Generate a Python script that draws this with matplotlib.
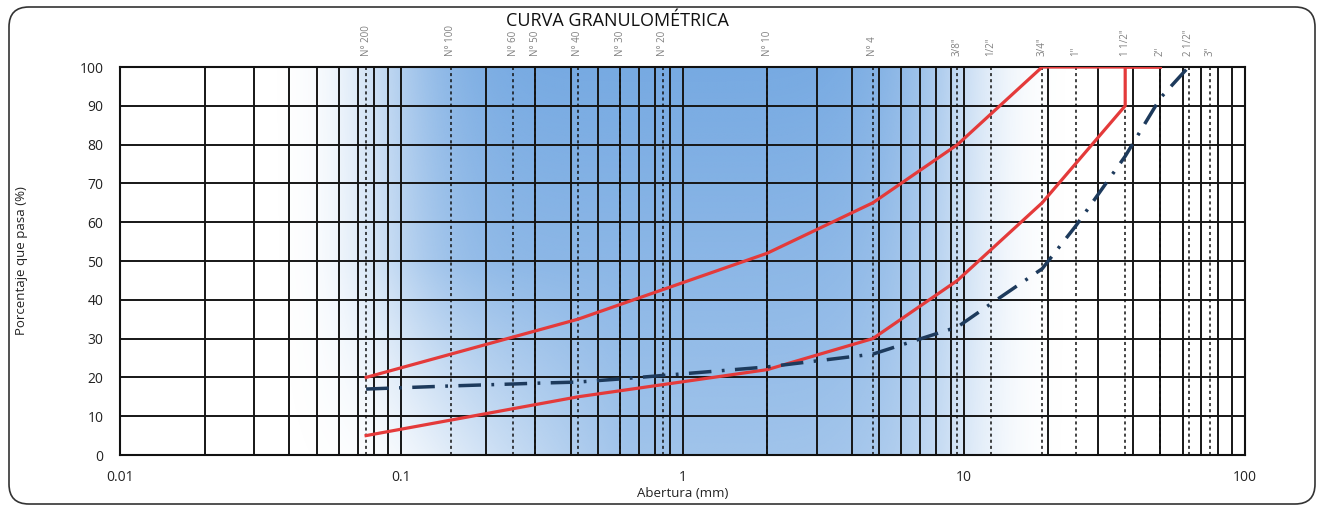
import numpy as np
import matplotlib
matplotlib.use("Agg")
import matplotlib.pyplot as plt
from matplotlib.patches import FancyBboxPatch

# ---- data ----
sieve_labels = ['N° 200', 'N° 100', 'N° 60', 'N° 50', 'N° 40', 'N° 30', 'N° 20',
                'N° 10', 'N° 4', '3/8"', '1/2"', '3/4"', '1"', '1 1/2"', '2"', '2 1/2"', '3"']
sieve_mm = [0.075, 0.15, 0.25, 0.3, 0.425, 0.6, 0.85, 2.0, 4.75, 9.5, 12.5, 19.0,
            25.0, 37.5, 50.0, 63.0, 75.0]

upper_x = [0.075, 0.425, 2.0, 4.75, 9.5, 19.0, 50.0]
upper_y = [20, 35, 52, 65, 80, 100, 100]

lower_x = [0.075, 0.425, 2.0, 4.75, 9.5, 19.0, 37.5, 37.5, 50.0]
lower_y = [5, 15, 22, 30, 45, 65, 90, 100, 100]

sample_x = [0.075, 0.15, 0.25, 0.3, 0.425, 0.6, 0.85, 2.0, 4.75, 9.5, 12.5, 19.0,
            25.0, 37.5, 50.0, 63.0]
sample_y = [17, 17.8, 18.3, 18.5, 18.8, 19.6, 20.5, 22.7, 26, 33, 39, 48,
            59, 77, 92, 100]

x_ticks = [0.01, 0.1, 1, 10, 100]
x_ticklabels = ['0.01', '0.1', '1', '10', '100']
y_ticks = list(range(0, 101, 10))

plt.rcParams['font.family'] = ['Open Sans', 'DejaVu Sans']

W, H = 1325, 511
fig = plt.figure(figsize=(W / 100, H / 100), dpi=100)
ax = fig.add_axes([120 / W, 1 - 455 / H, 1125 / W, 388 / H])

ax.set_xscale('log')
ax.set_xlim(0.01, 100)
ax.set_ylim(0, 100)

# blue background shading
nu, nv = 500, 250
u = np.linspace(0, 1, nu)
v = np.linspace(0, 1, nv)
U, V = np.meshgrid(u, v)
sx = np.exp(-(np.abs(U - 0.49) / 0.265) ** 6)
pale = np.clip((0.5 - V) / 0.5, 0, 1) * np.clip((0.45 - U) / 0.22, 0, 1)
vert = 0.7 + 0.3 * V
alpha = 0.88 * sx * vert * (1 - 0.85 * pale)
img = np.zeros((nv, nu, 4))
img[..., 0] = 100 / 255
img[..., 1] = 158 / 255
img[..., 2] = 222 / 255
img[..., 3] = alpha
ax.imshow(img, extent=[0, 1, 0, 1], transform=ax.transAxes, origin='lower',
          aspect='auto', zorder=0, interpolation='bilinear')

# grid
grid_col = '#161616'
for dec in [0.01, 0.1, 1, 10]:
    for m in range(1, 10):
        xv = dec * m
        if 0.01 < xv < 100:
            ax.axvline(xv, color=grid_col, lw=1.4, zorder=1)
for yv in y_ticks[1:-1]:
    ax.axhline(yv, color=grid_col, lw=1.4, zorder=1)

# sieve dotted lines + labels
for lab, s in zip(sieve_labels, sieve_mm):
    ax.axvline(s, color='#111111', lw=1.1, ls=(0, (2, 2)), zorder=2)
    ax.annotate(lab, xy=(s, 100), xycoords='data', xytext=(0, 8),
                textcoords='offset points', rotation=90, ha='center', va='bottom',
                fontsize=7, color='#808080', annotation_clip=False)

# curves
ax.plot(upper_x, upper_y, color='#e43a3a', lw=2.3, zorder=4, solid_joinstyle='miter')
ax.plot(lower_x, lower_y, color='#e43a3a', lw=2.3, zorder=4, solid_joinstyle='miter')
ax.plot(sample_x, sample_y, color='#1d3a5c', lw=2.5, zorder=5,
        ls=(0, (6.5, 3, 0.8, 3)))

for sp in ax.spines.values():
    sp.set_color('#111111')
    sp.set_linewidth(1.5)

ax.set_xticks(x_ticks)
ax.set_xticklabels(x_ticklabels)
ax.set_yticks(y_ticks)
ax.xaxis.set_minor_locator(matplotlib.ticker.NullLocator())
ax.tick_params(axis='both', length=0, labelsize=10, colors='#222222')
ax.tick_params(axis='y', pad=12)
ax.tick_params(axis='x', pad=11)

ax.set_xlabel('Abertura (mm)', fontsize=9.5, labelpad=1, color='#222222')
ax.set_ylabel('Porcentaje que pasa (%)', fontsize=9.5, labelpad=37, color='#222222')

fig.text(617 / W, 1 - 21 / H, 'CURVA GRANULOMÉTRICA', ha='center', va='center',
         fontsize=13, color='#111111')

border = FancyBboxPatch((9 / W, 7 / H), 1306 / W, 497 / H,
                        boxstyle='round,pad=0,rounding_size=0.015',
                        transform=fig.transFigure, fill=False,
                        edgecolor='#333333', lw=1.2, mutation_aspect=W / H)
fig.patches.append(border)

fig.savefig('out.png', dpi=100)
